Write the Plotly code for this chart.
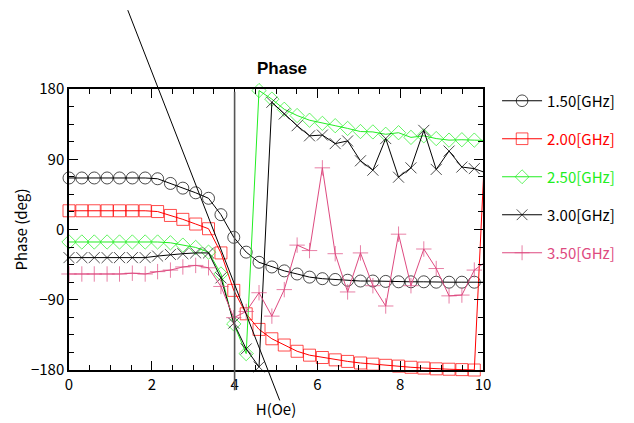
import plotly.graph_objects as go

# ---------------- data ----------------
h_oe = [0.00, 0.31, 0.61, 0.92, 1.22, 1.53, 1.84, 2.14, 2.45, 2.75, 3.06, 3.37,
        3.67, 3.98, 4.28, 4.59, 4.90, 5.20, 5.51, 5.81, 6.12, 6.43, 6.73, 7.04,
        7.34, 7.65, 7.96, 8.26, 8.57, 8.87, 9.18, 9.49, 9.79, 10.10]

phase_150 = [66, 66, 66, 66, 66, 66, 66, 65, 59, 53, 47, 40, 19, -10, -29, -42,
             -48, -53, -57, -61, -63, -64, -65, -66, -66, -66.5, -67, -67, -67,
             -67.5, -67.5, -67.5, -67.5, -67.5]
phase_200 = [24, 24, 24, 24, 24, 24, 24, 23, 18, 13, 7, 1, -30, -78, -108, -128,
             -140, -148, -156, -161, -164, -167, -169, -171, -172.5, -174, -175,
             -176.5, -177.5, -178.5, -179, -179.5, -180, 165]
phase_250 = [-16, -16, -16, -16, -16, -16, -16, -16, -17, -20, -23, -29, -57, -121,
             -159, 178, 167, 154, 146, 140, 136, 133, 129.5, 125.5, 125, 122, 124,
             118, 120, 116.5, 114.5, 115, 114.5, 114]
phase_300 = [-36, -36, -36, -36, -36, -36, -36, -34, -32, -31, -30, -30, -62, -120,
             -153, -176, 163, 148, 133, 120, 121, 110, 113.5, 88, 76, 116.5, 67, 79,
             127, 77, 100.5, 80, 78, 72]
phase_350 = [-57, -57, -57, -57, -57, -56, -57, -54, -52, -48, -46, -49, -73, -113,
             -105, -81, -111, -77, -20, -27, 79, -31, -80, -30, -72, -98, -6, -72,
             -25, -50, -85, -84, -52, -40]

series_names = ["1.50[GHz]", "2.00[GHz]", "2.50[GHz]", "3.00[GHz]", "3.50[GHz]"]
series_values = [phase_150, phase_200, phase_250, phase_300, phase_350]
series_colors = ["#000000", "#ff0000", "#22ee22", "#000000", "#de4a80"]
series_symbols = ["circle-open", "square-open", "diamond-open", "x-thin-open", "cross-thin-open"]
series_sizes = [12, 12, 11, 11, 11]

x_ticks = [0, 2, 4, 6, 8, 10]
y_ticks = [-180, -90, 0, 90, 180]
y_ticktext = ["\u2212180", "\u221290", "0", "90", "180"]

x_range = [0, 10]
y_range = [-180, 180]

# reference lines (data coordinates)
vline_x = 4.0
vline_y = [176.5, -206]
diag_start = (1.42, 281)
diag_end = (5.09, -219)

# ---------------- figure ----------------
fig = go.Figure()
n_pts = len(h_oe)
for name, vals, col, sym, sz in zip(series_names, series_values, series_colors,
                                    series_symbols, series_sizes):
    sizes = [sz] * (n_pts - 1) + [0]
    fig.add_trace(go.Scatter(
        x=h_oe, y=vals, mode="lines+markers", name=f'<span style="color:{col}">{name}</span>',
        legendgroup=name, cliponaxis=False,
        line=dict(color=col, width=1),
        marker=dict(symbol=sym, size=sizes, color=col, line=dict(color=col, width=1)),
    ))


def px_paper(x):
    return (x - x_range[0]) / (x_range[1] - x_range[0])


def py_paper(y):
    return (y - y_range[0]) / (y_range[1] - y_range[0])


fig.add_shape(type="line", xref="paper", yref="paper",
              x0=px_paper(vline_x), x1=px_paper(vline_x),
              y0=py_paper(vline_y[0]), y1=py_paper(vline_y[1]),
              line=dict(color="#555555", width=1.6), layer="above")
fig.add_shape(type="line", xref="paper", yref="paper",
              x0=px_paper(diag_start[0]), y0=py_paper(diag_start[1]),
              x1=px_paper(diag_end[0]), y1=py_paper(diag_end[1]),
              line=dict(color="#000000", width=1), layer="above")

tick_font = dict(family="Noto Sans CJK JP", size=15, color="#000000")
axis_common = dict(
    showgrid=False, zeroline=False, showline=True, linecolor="#000000", linewidth=1.5,
    mirror="allticks", ticks="inside", ticklen=9, tickwidth=1, tickcolor="#000000",
    tickfont=tick_font, automargin=False,
)

fig.update_xaxes(
    range=x_range, tickvals=x_ticks,
    minor=dict(dtick=0.5, ticks="inside", ticklen=5, tickcolor="#000000", tickwidth=1),
    title=dict(text="H(Oe)", font=tick_font, standoff=12),
    **axis_common,
)
fig.update_yaxes(
    range=y_range, tickvals=y_ticks, ticktext=y_ticktext,
    minor=dict(dtick=22.5, ticks="inside", ticklen=5, tickcolor="#000000", tickwidth=1),
    title=dict(text="Phase (deg)", font=tick_font, standoff=0),
    **axis_common,
)

fig.update_layout(
    width=634, height=423, autosize=False,
    margin=dict(l=69, r=151, t=89, b=53),
    paper_bgcolor="#ffffff", plot_bgcolor="#ffffff",
    title=dict(text="<b>Phase</b>", x=282 / 634, xanchor="center", xref="container",
               y=1 - 68 / 423, yanchor="middle", yref="container",
               font=dict(family="Liberation Sans", size=17, color="#000000")),
    legend=dict(x=1.034, y=1.016, xanchor="left", yanchor="top",
                font=dict(family="Noto Sans CJK JP", size=15, color="#000000"),
                tracegroupgap=15.5, itemwidth=40, bgcolor="rgba(0,0,0,0)"),
    showlegend=True,
)

fig.write_html("out.html", config={"displayModeBar": False},
               post_script="document.body.style.margin='0';document.body.style.overflow='hidden';")
